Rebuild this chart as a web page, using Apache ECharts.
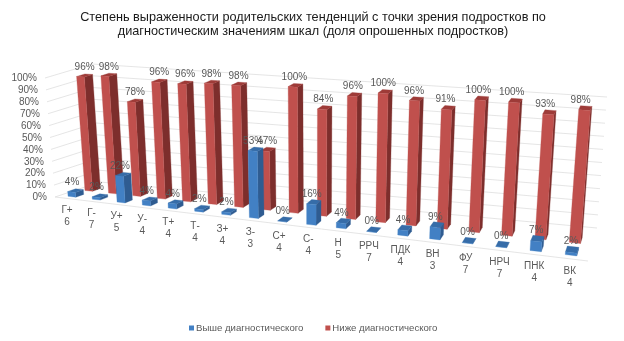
<!DOCTYPE html>
<html><head><meta charset="utf-8">
<style>html,body{margin:0;padding:0;background:#fff}#c{width:624px;height:341px}</style>
<script src="https://cdn.jsdelivr.net/npm/echarts@6/dist/echarts.min.js"></script>
</head><body><div id="c"></div>
<script>
const categories=['Г+','Г-','У+','У-','Т+','Т-','З+','З-','С+','С-','Н','РРЧ','ПДК','ВН','ФУ','НРЧ','ПНК','ВК'];
const scaleNumbers=[6,7,5,4,4,4,4,3,4,4,5,7,4,3,7,7,4,4];
const above=[4,2,22,4,4,2,2,53,0,16,4,0,4,9,0,0,7,2];
const below=[96,98,78,96,96,98,98,47,100,84,96,100,96,91,100,100,93,98];
const ticks=[0,10,20,30,40,50,60,70,80,90,100];
const titleText='Степень выраженности родительских тенденций с точки зрения подростков по\nдиагностическим значениям шкал (доля опрошенных подростков)';
const names=['Выше диагностического','Ниже диагностического'];

// 3D box seen by the camera: corners on screen
const FBL=[55,197],FBR=[588,261],FTL=[45,78],FTR=[599,120],BBL=[100,182],BBR=[597,228],BTL=[92,64],BTR=[607,97];
const lerp=(a,b,t)=>[a[0]+(b[0]-a[0])*t,a[1]+(b[1]-a[1])*t];
const warpA=0.81;
function project(u,v,w){
  const s=warpA*u/(1+(warpA-1)*u);
  const fb=lerp(FBL,FBR,s),ft=lerp(FTL,FTR,s),bb=lerp(BBL,BBR,s),bt=lerp(BTL,BTR,s);
  return lerp(lerp(fb,ft,v),lerp(bb,bt,v),w);
}
function norm(cs,p){return [(p[0]-cs.x)/cs.width,(cs.y+cs.height-p[1])/cs.height];}
const TXT='#595959',FONT='"Liberation Sans",Arial,sans-serif';

function barSeries(name,data,w0,w1,cols,labelShift){
  return {name,type:'custom',coordinateSystem:'cartesian2d',clip:false,silent:true,
    itemStyle:{color:cols.front},encode:{x:0,y:1},
    data:data.map((v,i)=>[i,v]),
    renderItem(params,api){
      const cs=params.coordSys;
      const i=api.value(0),val=api.value(1);
      const p=norm(cs,api.coord([i,val]));
      const band=api.size([1,0])[0]/cs.width;
      const u0=p[0]-band*0.16,u1=p[0]+band*0.16,v=p[1];
      const poly=(pts,c)=>({type:'polygon',shape:{points:pts},style:{fill:c,stroke:c,lineWidth:0.3}});
      const a=project(u0,0,w0),b=project(u1,0,w0),c=project(u1,v,w0),d=project(u0,v,w0);
      const e=project(u1,0,w1),f=project(u1,v,w1),g=project(u0,v,w1);
      const top=[(d[0]+f[0])/2,(d[1]+f[1])/2];
      return {type:'group',children:[
        poly([b,e,f,c],cols.side),
        poly([d,c,f,g],cols.top),
        poly([a,b,c,d],cols.front),
        {type:'text',style:{text:val+'%',x:top[0]+labelShift(p[0]),y:top[1]-8,align:'center',verticalAlign:'middle',fill:TXT,font:'10px '+FONT}}
      ]};
    }};
}

const option={
  animation:false,backgroundColor:'#fff',
  title:{text:titleText,left:308,textAlign:'center',top:5,textStyle:{fontFamily:FONT,fontSize:12.7,fontWeight:'normal',color:'#1a1a1a',lineHeight:14.5}},
  legend:{data:names,left:184,top:318,itemWidth:5,itemHeight:5,itemGap:22,icon:'rect',textStyle:{fontFamily:FONT,fontSize:9.6,color:TXT,padding:[0,0,0,-3]}},
  grid:{left:0,right:0,top:0,bottom:0},
  xAxis:{type:'category',data:categories,show:false},
  yAxis:{type:'value',min:0,max:100,interval:10,show:false},
  series:[
    {type:'custom',name:'grid',clip:false,silent:true,encode:{x:0,y:1},data:ticks.map(t=>[0,t]),
      renderItem(params,api){
        const cs=params.coordSys,t=api.value(1);
        const v=norm(cs,api.coord([0,t]))[1];
        const ln={stroke:'#dedede',lineWidth:0.8,fill:null};
        const kids=[{type:'polyline',shape:{points:[project(0,v,0),project(0,v,1),project(1,v,1)]},style:ln}];
        if(t===0)kids.push({type:'line',shape:{x1:FBL[0],y1:FBL[1],x2:FBR[0],y2:FBR[1]},style:ln});
        const q=project(0,v,0);
        kids.push({type:'text',style:{text:t+'%',x:q[0]-8,y:q[1]+0.5,align:'right',verticalAlign:'middle',fill:TXT,font:'10px '+FONT}});
        return {type:'group',children:kids};
      }},
    {type:'custom',name:'cats',clip:false,silent:true,encode:{x:0,y:1},data:categories.map((c,i)=>[i,0]),
      renderItem(params,api){
        const cs=params.coordSys,i=api.value(0);
        const p=norm(cs,api.coord([i,0]));
        const q=project(p[0],0,0);
        return {type:'text',style:{text:categories[i]+'\n'+scaleNumbers[i],x:q[0],y:q[1]+6,align:'center',verticalAlign:'top',fill:TXT,font:'10px '+FONT,lineHeight:12}};
      }},
    barSeries(names[1],below,0.49,0.67,{front:'#C0504D',side:'#7D2E2C',top:'#9E3B38'},u=>-5*u*u),
    barSeries(names[0],above,0.11,0.29,{front:'#4280C4',side:'#2F5C91',top:'#366CA8'},u=>-3.5+2.5*u)
  ]
};
const chart=echarts.init(document.getElementById('c'),null,{renderer:'canvas'});
chart.setOption(option);
</script></body></html>
